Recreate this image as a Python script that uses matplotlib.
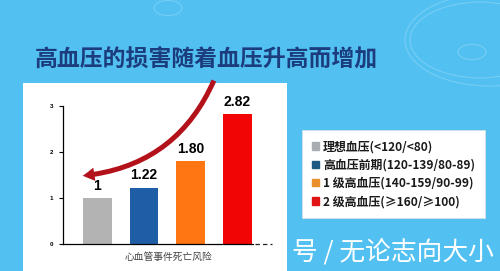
import matplotlib.pyplot as plt
import numpy as np
from matplotlib.patches import Rectangle, FancyArrowPatch, Circle
from matplotlib.lines import Line2D

plt.rcParams['font.family'] = ['Noto Sans CJK SC', 'DejaVu Sans']

# data
categories = ["理想血压(<120/<80)", "高血压前期(120-139/80-89)",
              "1 级高血压(140-159/90-99)", "2 级高血压(≥160/≥100)"]
values = [1.0, 1.22, 1.80, 2.82]
value_labels = ["1", "1.22", "1.80", "2.82"]
bar_colors = ["#B3B3B3", "#1F5EA6", "#FF7612", "#F20505"]
legend_colors = ["#A9ADB1", "#1F5A82", "#E8902C", "#E01414"]
yticks = [0, 1, 2, 3]
title = "高血压的损害随着血压升高而增加"
xlabel = "心血管事件死亡风险"
watermark = "号 / 无论志向大小"

W, H = 500, 271
fig = plt.figure(figsize=(5, 2.71), dpi=100)
fig.patch.set_facecolor("#52C1F1")

def fx(x):
    return x / W

def fy(y):
    return 1 - y / H

# background decoration circles
for cx, cy, r in [(490, 40, 85), (472, 52, 14), (168, 8, 14), (480, 40, 70)]:
    fig.patches.append(Circle((fx(cx), fy(cy)), r / W, transform=fig.transFigure,
                              fill=False, ec="white", lw=0.8, alpha=0.2))

# white panel
fig.patches.append(Rectangle((fx(23), 0), fx(287) - fx(23), fy(83),
                             transform=fig.transFigure, fc="white", ec="none", zorder=1))

fig.text(fx(35), fy(60), title, color="#1B3D7E", fontsize=16.5,
         fontweight="bold", va="center", ha="left")

ax = fig.add_axes([fx(63), fy(244), fx(253) - fx(63), fy(106) - fy(244)])
ax.set_facecolor("none")
ax.set_zorder(2)
x = np.arange(len(values))
bars = ax.bar(x, values, width=0.62, color=bar_colors)
for xi, v, lab in zip(x, values, value_labels):
    ax.annotate(lab, (xi, v), xytext=(0, 9), textcoords="offset points",
                ha="center", va="center", fontsize=10, fontweight="bold",
                family="Liberation Sans")
ax.set_xlim(-0.74, 3.34)
ax.set_ylim(0, 3)
ax.set_yticks(yticks)
ax.set_yticklabels([str(t) for t in yticks], fontsize=4.5, fontweight="bold",
                   family="Liberation Sans")
ax.set_xticks([])
ax.tick_params(axis="y", length=3, width=0.8, pad=4)
for s in ["top", "right"]:
    ax.spines[s].set_visible(False)
ax.spines["left"].set_linewidth(0.9)
ax.spines["bottom"].set_linewidth(0.9)

fig.lines.append(Line2D([fx(255), fx(272)], [fy(244), fy(244)], transform=fig.transFigure,
                        color="#222222", lw=0.9, dashes=(3.5, 2.5), zorder=3))

fig.text(fx(168), fy(257), xlabel, fontsize=7, color="#444444", ha="center",
         va="center", zorder=3)

# curved arrow
arrow = FancyArrowPatch((fx(215), fy(78)), (fx(80), fy(176)), transform=fig.transFigure,
                        connectionstyle="arc3,rad=-0.3",
                        arrowstyle="simple,head_length=0.7,head_width=0.8,tail_width=0.3",
                        mutation_scale=12, color="#B3121B", lw=0, zorder=4)
fig.patches.append(arrow)

leg = fig.legend(bars, categories, loc="upper left",
                 bbox_to_anchor=(fx(302), fy(130)), bbox_transform=fig.transFigure,
                 prop={"size": 8.6, "weight": "bold"}, frameon=True, fancybox=False,
                 facecolor="white", edgecolor="#E0E0E0", framealpha=1,
                 handlelength=0.55, handleheight=0.55, handletextpad=0.35,
                 labelspacing=0.45, borderpad=0.85, borderaxespad=0)
leg.get_frame().set_linewidth(0.5)
for h, c in zip(leg.legend_handles, legend_colors):
    h.set_color(c)
for t in leg.get_texts():
    t.set_color("#1A1A1A")

fig.text(fx(494), fy(253), watermark, color="white", fontsize=18.5,
         ha="right", va="center", zorder=5)

fig.savefig("out.png", dpi=100, facecolor=fig.get_facecolor())
